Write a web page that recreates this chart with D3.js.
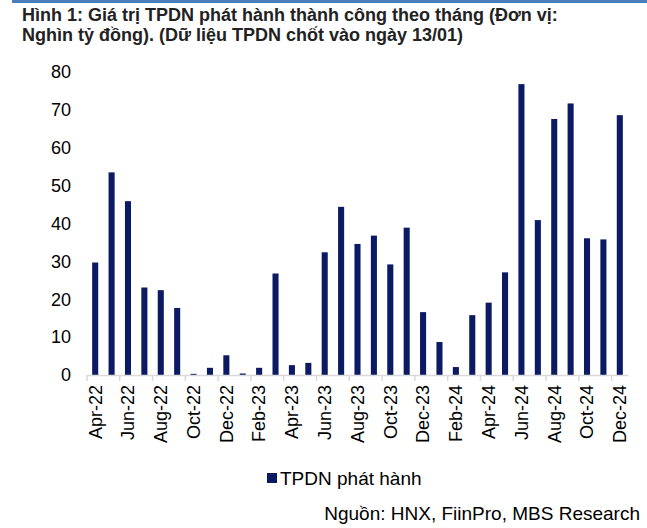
<!DOCTYPE html>
<html>
<head>
  <meta charset="utf-8">
  <title>TPDN phát hành</title>
  <script src="https://d3js.org/d3.v7.min.js"></script>
  <style>
    body { margin: 0; background: #fff; }
    svg { display: block; font-family: "Liberation Sans", Arial, sans-serif; }
  </style>
</head>
<body>
  <svg width="647" height="528"></svg>
  <script>
    const months = [
      "Apr-22", "May-22", "Jun-22", "Jul-22", "Aug-22", "Sep-22", "Oct-22", "Nov-22", "Dec-22",
      "Jan-23", "Feb-23", "Mar-23", "Apr-23", "May-23", "Jun-23", "Jul-23", "Aug-23", "Sep-23",
      "Oct-23", "Nov-23", "Dec-23", "Jan-24", "Feb-24", "Mar-24", "Apr-24", "May-24", "Jun-24",
      "Jul-24", "Aug-24", "Sep-24", "Oct-24", "Nov-24", "Dec-24"
    ];
    const issued = [
      29.7, 53.5, 45.9, 23.1, 22.4, 17.7, 0.3, 1.9, 5.2,
      0.4, 1.9, 26.8, 2.6, 3.2, 32.4, 44.4, 34.6, 36.8,
      29.2, 38.9, 16.6, 8.7, 2.1, 15.8, 19.1, 27.1, 76.8,
      40.9, 67.6, 71.7, 36.1, 35.8, 68.6
    ];
    const yTicks = [0, 10, 20, 30, 40, 50, 60, 70, 80];
    const seriesName = "TPDN phát hành";
    const titleLines = [
      "Hình 1: Giá trị TPDN phát hành thành công theo tháng (Đơn vị:",
      "Nghìn tỷ đồng). (Dữ liệu TPDN chốt vào ngày 13/01)"
    ];
    const source = "Nguồn: HNX, FiinPro, MBS Research";

    const svg = d3.select("svg");
    const barColor = "#0b1a63";
    const plotLeft = 87, plotRight = 628, plotBase = 375, plotTop = 72;

    // blue rule at the top
    svg.append("rect").attr("x", 12).attr("y", 0).attr("width", 635).attr("height", 3)
      .attr("fill", "#4a7ebb");

    svg.selectAll("text.title").data(titleLines).enter().append("text")
      .attr("class", "title")
      .attr("x", 22).attr("y", (d, i) => 21 + i * 20)
      .attr("font-size", 18).attr("font-weight", "bold").attr("fill", "#222")
      .text(d => d);

    const x = d3.scaleBand().domain(months).range([plotLeft, plotRight]).paddingInner(0.63).paddingOuter(0.315);
    const y = d3.scaleLinear().domain([0, 80]).range([plotBase, plotTop]);

    // y labels, no axis line
    svg.selectAll("text.ylab").data(yTicks).enter().append("text")
      .attr("class", "ylab")
      .attr("x", 71).attr("y", d => y(d)).attr("dy", "0.35em")
      .attr("text-anchor", "end").attr("font-size", 18).attr("fill", "#000")
      .text(d => d);

    svg.selectAll("rect.bar").data(issued).enter().append("rect")
      .attr("class", "bar")
      .attr("x", (d, i) => x(months[i]))
      .attr("width", x.bandwidth())
      .attr("y", d => y(d))
      .attr("height", d => plotBase - y(d))
      .attr("fill", barColor);

    // x axis: ticks at every second band boundary, labels on every second month
    const step = x.step();
    const labelled = months.filter((m, i) => i % 2 === 0);
    const xAxis = d3.axisBottom(x).tickValues(labelled).tickSize(0).tickPadding(10);
    const gx = svg.append("g").attr("transform", `translate(0,${plotBase})`).call(xAxis);
    gx.select(".domain").attr("stroke", "#d9d9d9").attr("stroke-width", 1.5);
    gx.selectAll("text")
      .attr("font-size", 18).attr("fill", "#000")
      .attr("text-anchor", "end")
      .attr("transform", "rotate(-90)")
      .attr("x", -10).attr("y", 0).attr("dy", "0.35em");
    gx.attr("font-family", null).attr("font-size", null);
    d3.range(0, months.length + 1, 2).forEach(i => {
      const bx = x.range()[0] + i * step;
      gx.append("line").attr("x1", bx).attr("x2", bx).attr("y1", 0).attr("y2", 6)
        .attr("stroke", "#d9d9d9").attr("stroke-width", 1.5);
    });

    // legend
    const lg = svg.append("g").attr("transform", "translate(267,473)");
    lg.append("rect").attr("width", 10).attr("height", 10).attr("fill", barColor);
    lg.append("text").attr("x", 13).attr("y", 5).attr("dy", "0.35em")
      .attr("font-size", 19).attr("fill", "#000").text(seriesName);

    svg.append("text").attr("x", 640).attr("y", 520).attr("text-anchor", "end")
      .attr("font-size", 19).attr("fill", "#000").text(source);
  </script>
</body>
</html>
